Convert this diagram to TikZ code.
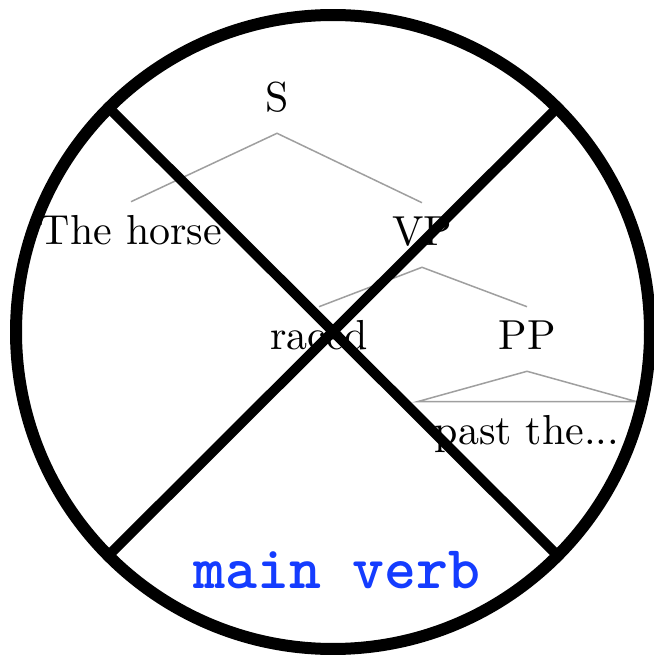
\documentclass[tikz,border=0pt]{standalone}
\usepackage{fontspec}
\usepackage{tikz}
\usetikzlibrary{positioning}
\definecolor{verbblue}{RGB}{20,60,255}
\tikzset{
  word/.style={text height=7pt, text depth=2pt, inner sep=3pt},
  branch/.style={gray!75, line width=0.36pt},
  cross/.style={line width=2.4pt, line cap=butt}
}

\begin{document}
\begin{tikzpicture}[x=0.2385pt, y=-0.2385pt]
\useasboundingbox (0,0) rectangle (653,655);

% Tree
\node[word] (S) at (277,101) {S};
\node[word] (horse) at (131,234) {The horse};
\node[word] (VP) at (422,235) {VP};
\node[word] (raced) at (319,339) {raced};
\node[word] (PP) at (527,339) {PP};
\node[word] (past) at (527,434) {past the...};
\draw[branch] (horse.north) -- (S.south) -- (VP.north);
\draw[branch] (raced.north) -- (VP.south) -- (PP.north);
\draw[branch] ([xshift=-1pt]past.north west) -- (PP.south) -- ([xshift=1pt]past.north east) -- cycle;

% Label
\node[font=\ttfamily\bfseries\fontsize{14.5}{16}\selectfont, text=verbblue] (verb) at (337,570) {main verb};

% Crossed-out circle
\draw[line width=2.86pt] (333,332) circle[radius=75.6pt];
\coordinate (nw) at (111,110);
\coordinate (ne) at (555,110);
\coordinate (sw) at (111,553);
\coordinate (se) at (555,553);
\draw[cross] (nw) -- (se);
\draw[cross] (ne) -- (sw);
\end{tikzpicture}
\end{document}
